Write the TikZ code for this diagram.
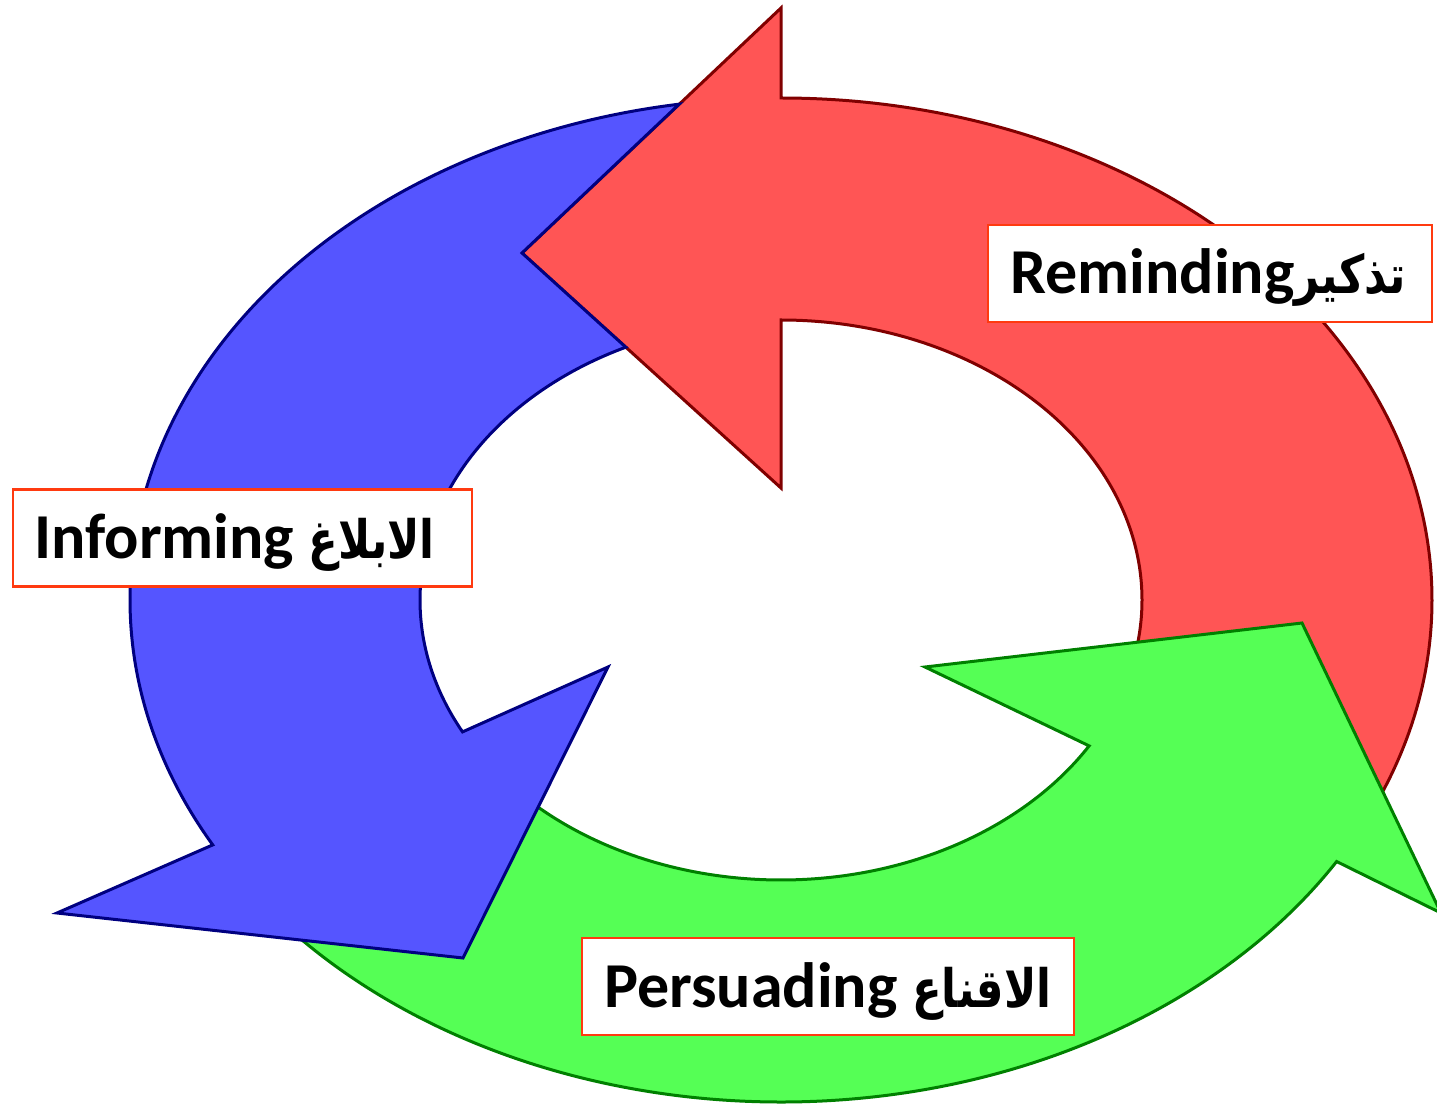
\documentclass[tikz,border=0pt]{standalone}
\usepackage{fontspec}
\setmainfont{Carlito}
\newfontfamily\arabicfont[Script=Arabic,FakeStretch=0.82]{DejaVu Sans}
\TeXXeTstate=1
\definecolor{redfill}{HTML}{FF5555}
\definecolor{redline}{HTML}{800000}
\definecolor{bluefill}{HTML}{5555FF}
\definecolor{blueline}{HTML}{000080}
\definecolor{greenfill}{HTML}{55FF55}
\definecolor{greenline}{HTML}{008000}
\definecolor{labelline}{HTML}{FF3A10}
\newcommand{\ar}[1]{{\arabicfont\bfseries\fontsize{53}{60}\selectfont\beginR #1\endR}}
\begin{document}
\begin{tikzpicture}[x=1pt,y=1pt,
  arrowband/.style={line width=3pt, line join=miter},
  redarrow/.style={arrowband, fill=redfill, draw=redline},
  bluearrow/.style={arrowband, fill=bluefill, draw=blueline},
  greenarrow/.style={arrowband, fill=greenfill, draw=greenline},
  labelbox/.style={draw=labelline, line width=2.5pt, fill=white, inner sep=0pt,
    minimum height=97pt},
  labeltext/.style={anchor=base west, inner sep=0pt,
    font=\bfseries\fontsize{64}{72}\selectfont}
]
\clip (-781,-503) rectangle (656,600);

% ring: outer ellipse 651 x 502, inner ellipse 361 x 280, centred at the origin

% Reminding: tail hidden under the green head, head pointing left at the top
\draw[redarrow] (350:361 and 280) -- (335:651 and 502)
  arc[start angle=335, end angle=450, x radius=651, y radius=502]
  -- (0,592) -- (-259,347) -- (0,112) -- (0,280)
  arc[start angle=90, end angle=-10, x radius=361, y radius=280] -- cycle;

% Persuading: tail hidden under the blue head, head pointing up-right
\draw[greenarrow] (218:651 and 502)
  arc[start angle=218, end angle=328.6, x radius=651, y radius=502]
  -- (660,-313) -- (521,-23) -- (144,-67) -- (328.6:361 and 280)
  arc[start angle=328.6, end angle=225, x radius=361, y radius=280] -- cycle;

% Informing: tail notched around the red head's tip
\draw[bluearrow] (99:651 and 502)
  arc[start angle=99, end angle=209.2, x radius=651, y radius=502]
  -- (-724,-313) -- (-318,-358) -- (-173,-67) -- (208.1:361 and 280)
  arc[start angle=208.1, end angle=115.46, x radius=361, y radius=280]
  -- (-259,347) -- cycle;

% labels
\node[labelbox, minimum width=444pt] (remind) at (429,326.5) {};
\node[labeltext] (remindtext) at (229,306) {Reminding\ar{تذكير}};
\node[labelbox, minimum width=459pt] (inform) at (-538.5,62) {};
\node[labeltext] (informtext) at (-747,42) {Informing \ar{الابلاغ}};
\node[labelbox, minimum width=492pt] (persuade) at (47,-386.5) {};
\node[labeltext] (persuadetext) at (-177,-407) {Persuading \ar{الاقناع}};
\end{tikzpicture}
\end{document}
